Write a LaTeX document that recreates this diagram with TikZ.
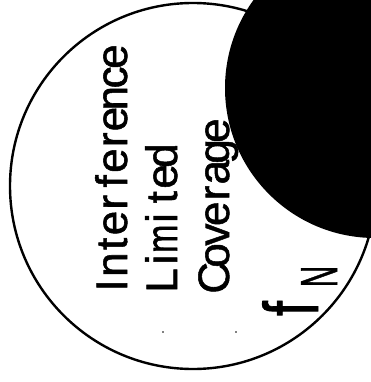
\documentclass[tikz,border=0pt]{standalone}
\usepackage{fontspec}
\setmainfont{Liberation Sans}
\newfontfamily\plotfont[FakeBold=1.2]{Liberation Sans}
\usepackage{graphicx}
\newlength\pitch \setlength\pitch{20.8pt}
\def\monoloop#1{\ifx#1\relax\else\makebox[\pitch][c]{\ifx#1m\scalebox{0.78}[1]{m}\else #1\fi}\expandafter\monoloop\fi}
\newcommand\monotext[1]{\monoloop#1\relax}
\begin{document}
\begin{tikzpicture}[x=1pt,y=-1pt,
  lbl/.style={rotate=90, anchor=base west, inner sep=0pt, font=\plotfont\fontsize{44}{44}\selectfont},
  sym/.style={rotate=90, anchor=base, inner sep=0pt},
  ring/.style={draw, circle, line width=2.4pt, minimum size=366pt, inner sep=0pt},
  blob/.style={circle, fill=black, minimum size=300pt, inner sep=0pt},
  speck/.style={circle, fill=black, minimum size=1.8pt, inner sep=0pt}]
\useasboundingbox (0,0) rectangle (371,382);
\clip (0,0) rectangle (371,382);
\node[ring] (cov) at (193,186) {};
\node[lbl] (t1) at (127,296) {\monotext{Interference}};
\node[lbl] (t2) at (177,291) {\monotext{Limited}};
\node[lbl] (t3) at (229,290) {\makebox[24pt][c]{C}\monotext{overage}};
\node[sym, font=\plotfont\fontsize{77}{77}\selectfont] (f) at (318,308.5) {\scalebox{0.7}[1]{f}};
\node[sym, font=\plotfont\fontsize{52}{52}\selectfont] (n) at (337,276.5) {\scalebox{0.57}[1]{N}};
\node[blob] (blk) at (375,88) {};
\node[speck] (d1) at (163,332) {};
\node[speck] (d2) at (236,332) {};
\end{tikzpicture}
\end{document}
